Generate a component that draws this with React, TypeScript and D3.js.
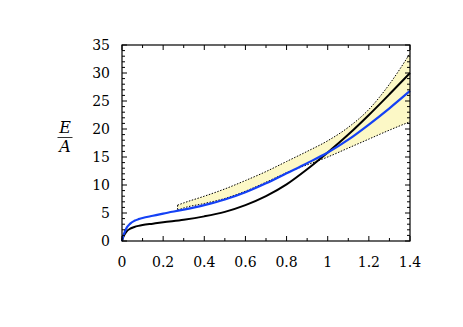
import React, { useEffect, useRef } from "react";
import * as d3 from "d3";

// black curve
const blackX = [0, 0.005, 0.01, 0.02, 0.04, 0.06, 0.08, 0.1, 0.15, 0.2, 0.3, 0.4, 0.5, 0.6, 0.7, 0.8, 0.9, 1.0, 1.1, 1.2, 1.3, 1.4];
const blackE = [0, 0.6, 1.0, 1.6, 2.2, 2.5, 2.7, 2.85, 3.1, 3.35, 3.8, 4.4, 5.2, 6.4, 8.0, 10.1, 12.8, 15.8, 19.0, 22.5, 26.2, 30.0];

// blue curve
const blueX = [0, 0.005, 0.01, 0.02, 0.04, 0.06, 0.08, 0.1, 0.15, 0.2, 0.3, 0.4, 0.5, 0.6, 0.7, 0.8, 0.9, 1.0, 1.1, 1.2, 1.3, 1.4];
const blueE = [0, 0.8, 1.3, 2.2, 3.1, 3.6, 3.9, 4.1, 4.5, 4.9, 5.6, 6.4, 7.4, 8.7, 10.3, 12.1, 13.9, 15.8, 18.1, 20.8, 23.7, 26.8];

// band (upper / lower)
const bandX = [0.27, 0.3, 0.4, 0.5, 0.6, 0.7, 0.8, 0.9, 1.0, 1.1, 1.2, 1.3, 1.4];
const bandUpper = [6.4, 6.8, 8.0, 9.3, 10.8, 12.4, 14.2, 16.0, 17.9, 20.3, 23.5, 28.0, 33.5];
const bandLower = [5.5, 5.9, 6.7, 7.6, 8.9, 10.5, 12.2, 13.6, 15.0, 16.6, 18.2, 19.8, 21.3];

const xTicks = [0, 0.2, 0.4, 0.6, 0.8, 1, 1.2, 1.4];
const yTicks = [0, 5, 10, 15, 20, 25, 30, 35];

const W = 463;
const H = 327;
const margin = { top: 45, right: 53, bottom: 86, left: 122 };

export default function App() {
  const svgRef = useRef<SVGSVGElement>(null);

  useEffect(() => {
    const svg = d3.select(svgRef.current);
    svg.selectAll("*").remove();

    const innerW = W - margin.left - margin.right;
    const innerH = H - margin.top - margin.bottom;

    const x = d3.scaleLinear().domain([0, 1.4]).range([0, innerW]);
    const y = d3.scaleLinear().domain([0, 35]).range([innerH, 0]);

    const g = svg.append("g").attr("transform", `translate(${margin.left},${margin.top})`);

    const font = "'DejaVu Serif', 'Liberation Serif', serif";

    // band
    const band = bandX.map((d, i) => ({ x: d, lo: bandLower[i], hi: bandUpper[i] }));
    g.append("path")
      .datum(band)
      .attr("fill", "#fcf8c6")
      .attr(
        "d",
        d3.area<any>().x((d) => x(d.x)).y0((d) => y(d.lo)).y1((d) => y(d.hi)).curve(d3.curveMonotoneX)
      );
    ["hi", "lo"].forEach((k) => {
      g.append("path")
        .datum(band)
        .attr("fill", "none")
        .attr("stroke", "#000")
        .attr("stroke-width", 1)
        .attr("stroke-dasharray", "1.5,1.5")
        .attr("d", d3.line<any>().x((d) => x(d.x)).y((d) => y(d[k])).curve(d3.curveMonotoneX));
    });
    // closing segment at left end
    g.append("line")
      .attr("x1", x(bandX[0]))
      .attr("x2", x(bandX[0]))
      .attr("y1", y(bandUpper[0]))
      .attr("y2", y(bandLower[0]))
      .attr("stroke", "#000")
      .attr("stroke-width", 1)
      .attr("stroke-dasharray", "1.5,1.5");

    const line = d3.line<[number, number]>().x((d) => x(d[0])).y((d) => y(d[1])).curve(d3.curveMonotoneX);

    g.append("path")
      .datum(blackX.map((d, i) => [d, blackE[i]] as [number, number]))
      .attr("fill", "none")
      .attr("stroke", "#000")
      .attr("stroke-width", 2)
      .attr("d", line);

    g.append("path")
      .datum(blueX.map((d, i) => [d, blueE[i]] as [number, number]))
      .attr("fill", "none")
      .attr("stroke", "#1441f5")
      .attr("stroke-width", 2.2)
      .attr("d", line);

    // ticks (inward, all four sides)
    const xMinor = d3.range(0, 1.41, 0.1);
    const yMinor = d3.range(0, 35.1, 1);
    xMinor.forEach((t, i) => {
      const len = i % 2 === 0 ? 5 : 3;
      g.append("line").attr("x1", x(t)).attr("x2", x(t)).attr("y1", innerH).attr("y2", innerH - len).attr("stroke", "#000");
      g.append("line").attr("x1", x(t)).attr("x2", x(t)).attr("y1", 0).attr("y2", len).attr("stroke", "#000");
    });
    yMinor.forEach((t, i) => {
      const len = i % 5 === 0 ? 5 : 3;
      g.append("line").attr("x1", 0).attr("x2", len).attr("y1", y(t)).attr("y2", y(t)).attr("stroke", "#000");
      g.append("line").attr("x1", innerW).attr("x2", innerW - len).attr("y1", y(t)).attr("y2", y(t)).attr("stroke", "#000");
    });

    // frame
    g.append("rect")
      .attr("width", innerW)
      .attr("height", innerH)
      .attr("fill", "none")
      .attr("stroke", "#000")
      .attr("stroke-width", 1.2);

    // tick labels
    g.selectAll(".xl")
      .data(xTicks)
      .enter()
      .append("text")
      .attr("x", (d) => x(d))
      .attr("y", innerH + 26)
      .attr("text-anchor", "middle")
      .attr("font-family", font)
      .attr("font-size", 14)
      .text((d) => String(d));

    g.selectAll(".yl")
      .data(yTicks)
      .enter()
      .append("text")
      .attr("x", -12)
      .attr("y", (d) => y(d))
      .attr("dy", "0.35em")
      .attr("text-anchor", "end")
      .attr("font-family", font)
      .attr("font-size", 14)
      .text((d) => String(d));

    // y label E / A
    const lx = 65 - margin.left;
    g.append("text")
      .attr("x", lx)
      .attr("y", 133 - margin.top)
      .attr("text-anchor", "middle")
      .attr("font-family", font)
      .attr("font-style", "italic")
      .attr("font-size", 16)
      .text("E");
    g.append("line")
      .attr("x1", lx - 7.5)
      .attr("x2", lx + 7.5)
      .attr("y1", 137.5 - margin.top)
      .attr("y2", 137.5 - margin.top)
      .attr("stroke", "#000")
      .attr("stroke-width", 0.8);
    g.append("text")
      .attr("x", lx)
      .attr("y", 152 - margin.top)
      .attr("text-anchor", "middle")
      .attr("font-family", font)
      .attr("font-style", "italic")
      .attr("font-size", 16)
      .text("A");
  }, []);

  return (
    <svg
      ref={svgRef}
      width={W}
      height={H}
      style={{ position: "absolute", left: 0, top: 0, background: "#fff" }}
    />
  );
}
